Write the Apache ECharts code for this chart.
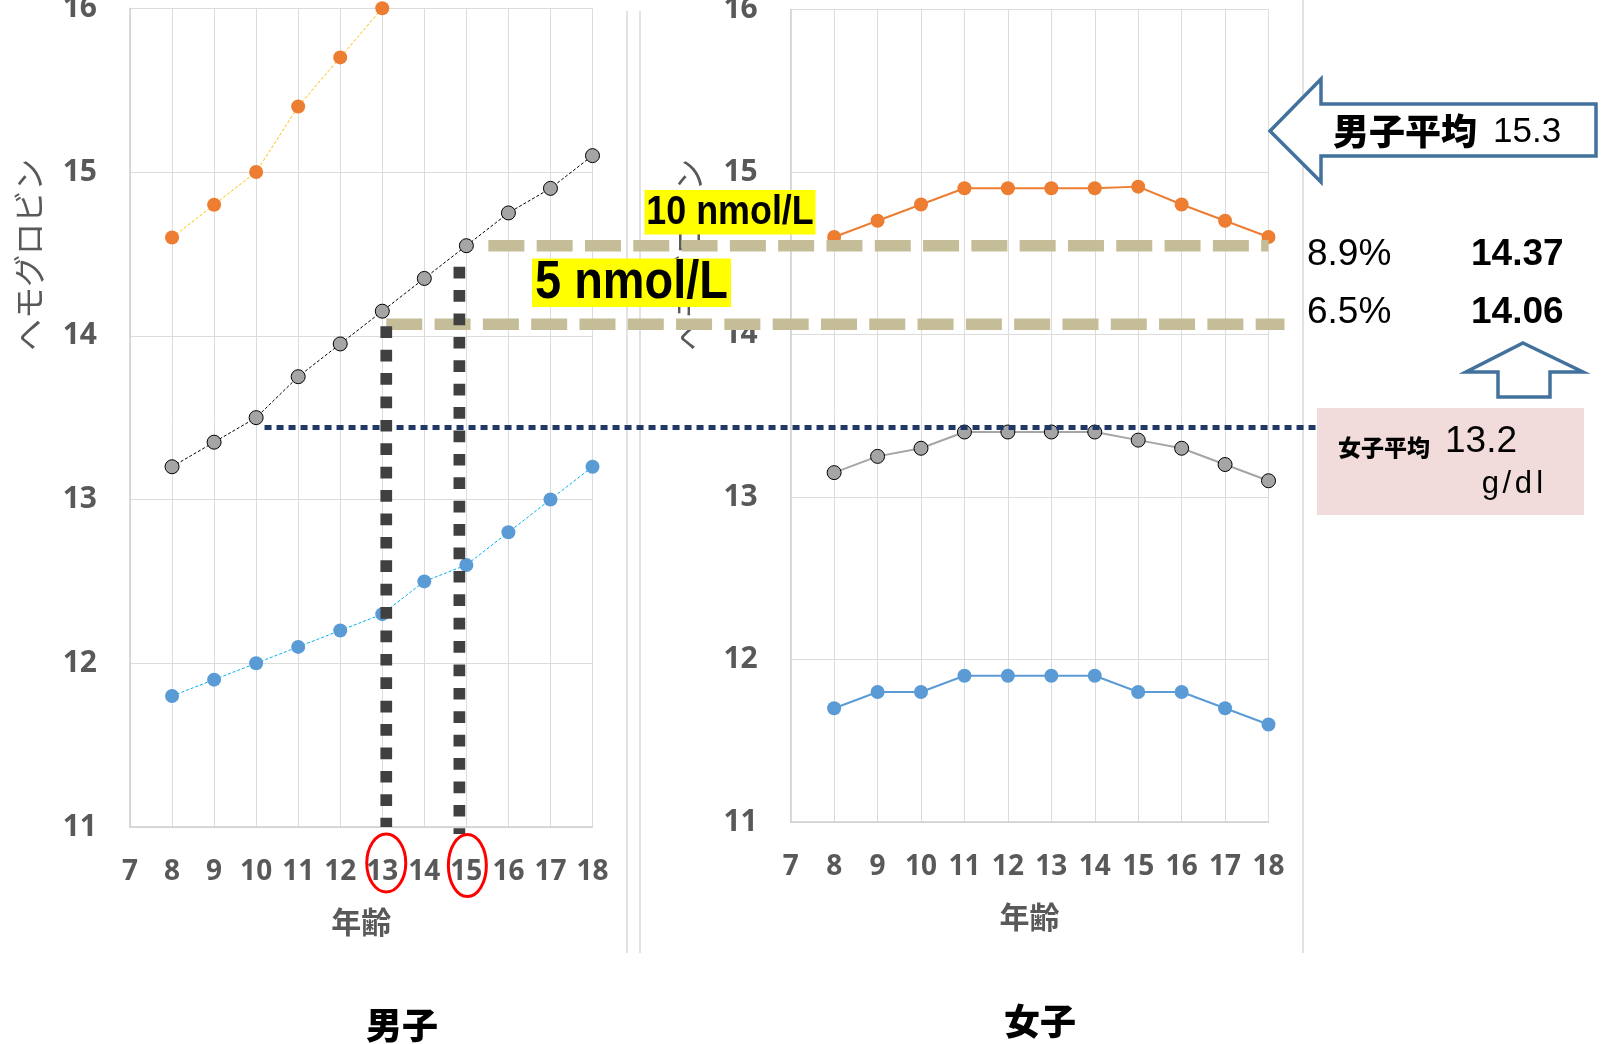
<!DOCTYPE html>
<html>
<head>
<meta charset="utf-8">
<script src="https://cdn.jsdelivr.net/npm/echarts@6/dist/echarts.min.js"></script>
<style>
html,body{margin:0;padding:0;background:#fff}
#c{width:1604px;height:1044px}
</style>
</head>
<body>
<div id="c"></div>
<script>
// Hemoglobin (g/dl) by age, boys and girls: upper / mean / lower curves
const ages = [8, 9, 10, 11, 12, 13, 14, 15, 16, 17, 18];
const boysUpper = [14.6, 14.8, 15.0, 15.4, 15.7, 16.0];
const boysMean  = [13.2, 13.35, 13.5, 13.75, 13.95, 14.15, 14.35, 14.55, 14.75, 14.9, 15.1];
const boysLower = [11.8, 11.9, 12.0, 12.1, 12.2, 12.3, 12.5, 12.6, 12.8, 13.0, 13.2];
const girlsUpper = [14.6, 14.7, 14.8, 14.9, 14.9, 14.9, 14.9, 14.91, 14.8, 14.7, 14.6];
const girlsMean  = [13.15, 13.25, 13.3, 13.4, 13.4, 13.4, 13.4, 13.35, 13.3, 13.2, 13.1];
const girlsLower = [11.7, 11.8, 11.8, 11.9, 11.9, 11.9, 11.9, 11.8, 11.8, 11.7, 11.6];

// axis ranges
const ageRange = [7, 18];
const hbRange = [11, 16];

// reference levels (g/dl) and highlighted ages
const testoLevels = [14.55, 14.07];      // 10 nmol/L, 5 nmol/L
const girlsAverageLevel = 13.44;
const markedAges = [13, 15];

// annotation texts
const levelLabels = ['10 nmol/L', '5 nmol/L'];
const pctLabels = ['8.9%', '6.5%'];
const valueLabels = ['14.37', '14.06'];

const pairs = (vals) => vals.map((v, i) => [ages[i], v]);

const GRAY = '#595959';
const CJK = '"Noto Sans CJK JP", "Noto Sans", sans-serif';

function xAxisCfg(gi) {
  return {
    gridIndex: gi, type: 'value', min: ageRange[0], max: ageRange[1], interval: 1,
    axisLine: { show: true, lineStyle: { color: '#D0D0D0', width: 1.5 } },
    axisTick: { show: false },
    splitLine: { show: true, lineStyle: { color: '#DCDCDC', width: 1 } },
    axisLabel: { fontSize: 28, fontWeight: 'bold', color: GRAY, fontFamily: '"Noto Sans", sans-serif', margin: 31 },
    name: '年齢', nameLocation: 'middle', nameGap: 80,
    nameTextStyle: { fontSize: 30, fontWeight: 'bold', color: GRAY, fontFamily: CJK }
  };
}
function yAxisCfg(gi) {
  return {
    gridIndex: gi, type: 'value', min: hbRange[0], max: hbRange[1], interval: 1,
    axisLine: { show: true, lineStyle: { color: '#D0D0D0', width: 1.5 } },
    axisTick: { show: false },
    splitLine: { show: true, lineStyle: { color: '#DCDCDC', width: 1 } },
    axisLabel: { fontSize: 30, fontWeight: 'bold', color: GRAY, fontFamily: '"Noto Sans", sans-serif', margin: 33 }
  };
}
function lineSeries(gi, vals, lineColor, dotColor, opts) {
  return {
    type: 'line', xAxisIndex: gi, yAxisIndex: gi, data: pairs(vals),
    symbol: 'circle', symbolSize: 14, clip: false, silent: true,
    lineStyle: { color: lineColor, width: opts.w, type: opts.dash ? [3, 2] : 'solid' },
    itemStyle: { color: dotColor, borderColor: opts.border || dotColor, borderWidth: opts.border ? 1 : 0 },
    emphasis: { disabled: true }
  };
}

const chart = echarts.init(document.getElementById('c'));
chart.setOption({
  animation: false,
  backgroundColor: '#ffffff',
  grid: [
    { left: 130, top: 8.25, width: 462.5, height: 818.75, containLabel: false, outerBoundsMode: 'none' },
    { left: 790.7, top: 9.5, width: 477.8, height: 812.5, containLabel: false, outerBoundsMode: 'none' }
  ],
  xAxis: [xAxisCfg(0), xAxisCfg(1)],
  yAxis: [yAxisCfg(0), yAxisCfg(1)],
  series: [
    lineSeries(0, boysUpper, '#FFC000', '#ED7D31', { w: 1, dash: true }),
    lineSeries(0, boysMean, '#000000', '#A5A5A5', { w: 1, dash: true, border: '#000000' }),
    lineSeries(0, boysLower, '#00B0F0', '#5B9BD5', { w: 1, dash: true }),
    lineSeries(1, girlsUpper, '#ED7D31', '#ED7D31', { w: 2 }),
    lineSeries(1, girlsMean, '#A5A5A5', '#A5A5A5', { w: 2, border: '#000000' }),
    lineSeries(1, girlsLower, '#5B9BD5', '#5B9BD5', { w: 2 })
  ]
});

// annotation layer, placed through the axes of both panels
const L = (x, y) => chart.convertToPixel({ gridIndex: 0 }, [x, y]);
const R = (x, y) => chart.convertToPixel({ gridIndex: 1 }, [x, y]);

const yHi = L(ageRange[0], testoLevels[0])[1];
const yLo = L(ageRange[0], testoLevels[1])[1];
const yAvg = L(ageRange[0], girlsAverageLevel)[1];
const yAxisBottomL = L(ageRange[0], hbRange[0])[1];
const x13 = L(markedAges[0], hbRange[0])[0];
const x15 = L(markedAges[1], hbRange[0])[0];
const xR18 = R(ageRange[1], hbRange[0])[0];
const xR7 = R(ageRange[0], hbRange[0])[0];
const xL7 = L(ageRange[0], hbRange[0])[0];
const yNameMid = (L(ageRange[0], 15)[1] + L(ageRange[0], 14)[1]) / 2 + 1;

const TAN = '#C4BD97';
const NAVY = '#1F3864';
const BLUE = '#41719C';
const dark = '#404040';

const g = [];
// panel borders
[[627, 11, 953], [640, 11, 953], [1303, 0, 953]].forEach(([x, y1, y2]) => {
  g.push({ type: 'line', z: 1, shape: { x1: x, y1: y1, x2: x, y2: y2 }, style: { stroke: '#D9D9D9', lineWidth: 1.5 } });
});
// vertical axis names
[xL7 - 101.5, xR7 - 102].forEach((cx) => {
  g.push({ type: 'text', z: 5, x: cx, y: yNameMid, rotation: Math.PI / 2,
    style: { text: 'ヘモグロビン', fontSize: 32, fontFamily: CJK, fill: GRAY, align: 'center', verticalAlign: 'middle' } });
});
// girls' average level
g.push({ type: 'line', z: 20, shape: { x1: L(10.2, 0)[0], y1: yAvg, x2: 1317, y2: yAvg },
  style: { stroke: NAVY, lineWidth: 5, lineDash: [7, 5] } });
// testosterone-equivalent levels
g.push({ type: 'line', z: 21, shape: { x1: x15 + 22, y1: yHi, x2: xR18, y2: yHi },
  style: { stroke: TAN, lineWidth: 11.5, lineDash: [36, 12.3] } });
g.push({ type: 'line', z: 21, shape: { x1: x13 + 4, y1: yLo, x2: xR18 + 16, y2: yLo },
  style: { stroke: TAN, lineWidth: 11.5, lineDash: [36, 12.3] } });
// ages where the mean crosses each level
g.push({ type: 'line', z: 22, shape: { x1: x13 + 4, y1: yLo + 2, x2: x13 + 4, y2: yAxisBottomL },
  style: { stroke: dark, lineWidth: 11.7, lineDash: [11.7, 11.7] } });
g.push({ type: 'line', z: 22, shape: { x1: x15 - 7, y1: yHi + 21, x2: x15 - 7, y2: yAxisBottomL + 7 },
  style: { stroke: dark, lineWidth: 11.7, lineDash: [11.7, 11.7] } });
// red rings on the highlighted ages
g.push({ type: 'ellipse', z: 23, shape: { cx: x13 + 4, cy: yAxisBottomL + 36, rx: 19.5, ry: 29 },
  style: { fill: 'none', stroke: '#FF0000', lineWidth: 3 } });
g.push({ type: 'ellipse', z: 23, shape: { cx: x15 + 1, cy: yAxisBottomL + 38.5, rx: 19, ry: 31 },
  style: { fill: 'none', stroke: '#FF0000', lineWidth: 3 } });
// level labels
const boxFont = '"Liberation Sans", Arial, sans-serif';
g.push({ type: 'rect', z: 24, shape: { x: 644.5, y: 190, width: 171, height: 44.5 }, style: { fill: '#FFFF00' } });
g.push({ type: 'text', z: 25, x: 730, y: 213, scaleX: 0.92, scaleY: 1.06,
  style: { text: levelLabels[0], fontSize: 39, fontWeight: 'bold', fontFamily: boxFont, fill: '#000', align: 'center', verticalAlign: 'middle' } });
g.push({ type: 'rect', z: 24, shape: { x: 532, y: 258.5, width: 199, height: 48.5 }, style: { fill: '#FFFF00' } });
g.push({ type: 'text', z: 25, x: 631.5, y: 283.5, scaleX: 0.92, scaleY: 1.06,
  style: { text: levelLabels[1], fontSize: 51, fontWeight: 'bold', fontFamily: boxFont, fill: '#000', align: 'center', verticalAlign: 'middle' } });
// boys' average arrow
g.push({ type: 'polygon', z: 24,
  shape: { points: [[1270, 131], [1321, 79], [1321, 104], [1596, 104], [1596, 156], [1321, 156], [1321, 182]] },
  style: { fill: '#ffffff', stroke: BLUE, lineWidth: 3.5, lineJoin: 'miter' } });
g.push({ type: 'text', z: 25, x: 1333, y: 131,
  style: { text: '男子平均', fontSize: 36, fontWeight: 900, fontFamily: CJK, fill: '#000', align: 'left', verticalAlign: 'middle' } });
g.push({ type: 'text', z: 25, x: 1493, y: 132,
  style: { text: '15.3', fontSize: 35, fontFamily: boxFont, fill: '#000', align: 'left', verticalAlign: 'middle' } });
// percentages and values
[255, 313].forEach((ty, i) => {
  g.push({ type: 'text', z: 25, x: 1307, y: ty,
    style: { text: pctLabels[i], fontSize: 37, fontFamily: boxFont, fill: '#000', align: 'left', verticalAlign: 'middle' } });
  g.push({ type: 'text', z: 25, x: 1471, y: ty,
    style: { text: valueLabels[i], fontSize: 37, fontWeight: 'bold', fontFamily: boxFont, fill: '#000', align: 'left', verticalAlign: 'middle' } });
});
// small up arrow
g.push({ type: 'polygon', z: 24,
  shape: { points: [[1523, 343], [1583, 372], [1550, 372], [1550, 397], [1498, 397], [1498, 372], [1466, 372]] },
  style: { fill: '#ffffff', stroke: BLUE, lineWidth: 3.5, lineJoin: 'miter' } });
// girls' average box
g.push({ type: 'rect', z: 24, shape: { x: 1317, y: 408, width: 267, height: 107 }, style: { fill: '#F2DCDB' } });
g.push({ type: 'text', z: 25, x: 1338, y: 447,
  style: { text: '女子平均', fontSize: 23, fontWeight: 900, fontFamily: CJK, fill: '#000', align: 'left', verticalAlign: 'middle' } });
g.push({ type: 'text', z: 25, x: 1445, y: 442,
  style: { text: '13.2', fontSize: 37, fontFamily: boxFont, fill: '#000', align: 'left', verticalAlign: 'middle' } });
g.push({ type: 'text', z: 25, x: 1482, y: 484,
  style: { text: '{c|g}{c|/}{c|d}{c|l}', fontSize: 31, fontFamily: boxFont, fill: '#000', align: 'left', verticalAlign: 'middle',
    rich: { c: { width: 16.5, align: 'center', fontSize: 31, fontFamily: boxFont, fill: '#000' } } } });
// panel titles
g.push({ type: 'text', z: 25, x: 402, y: 1025,
  style: { text: '男子', fontSize: 36, fontWeight: 900, fontFamily: CJK, fill: '#000', align: 'center', verticalAlign: 'middle' } });
g.push({ type: 'text', z: 25, x: 1040, y: 1021,
  style: { text: '女子', fontSize: 36, fontWeight: 900, fontFamily: CJK, fill: '#000', align: 'center', verticalAlign: 'middle' } });

chart.setOption({ graphic: { elements: g } });
</script>
</body>
</html>
